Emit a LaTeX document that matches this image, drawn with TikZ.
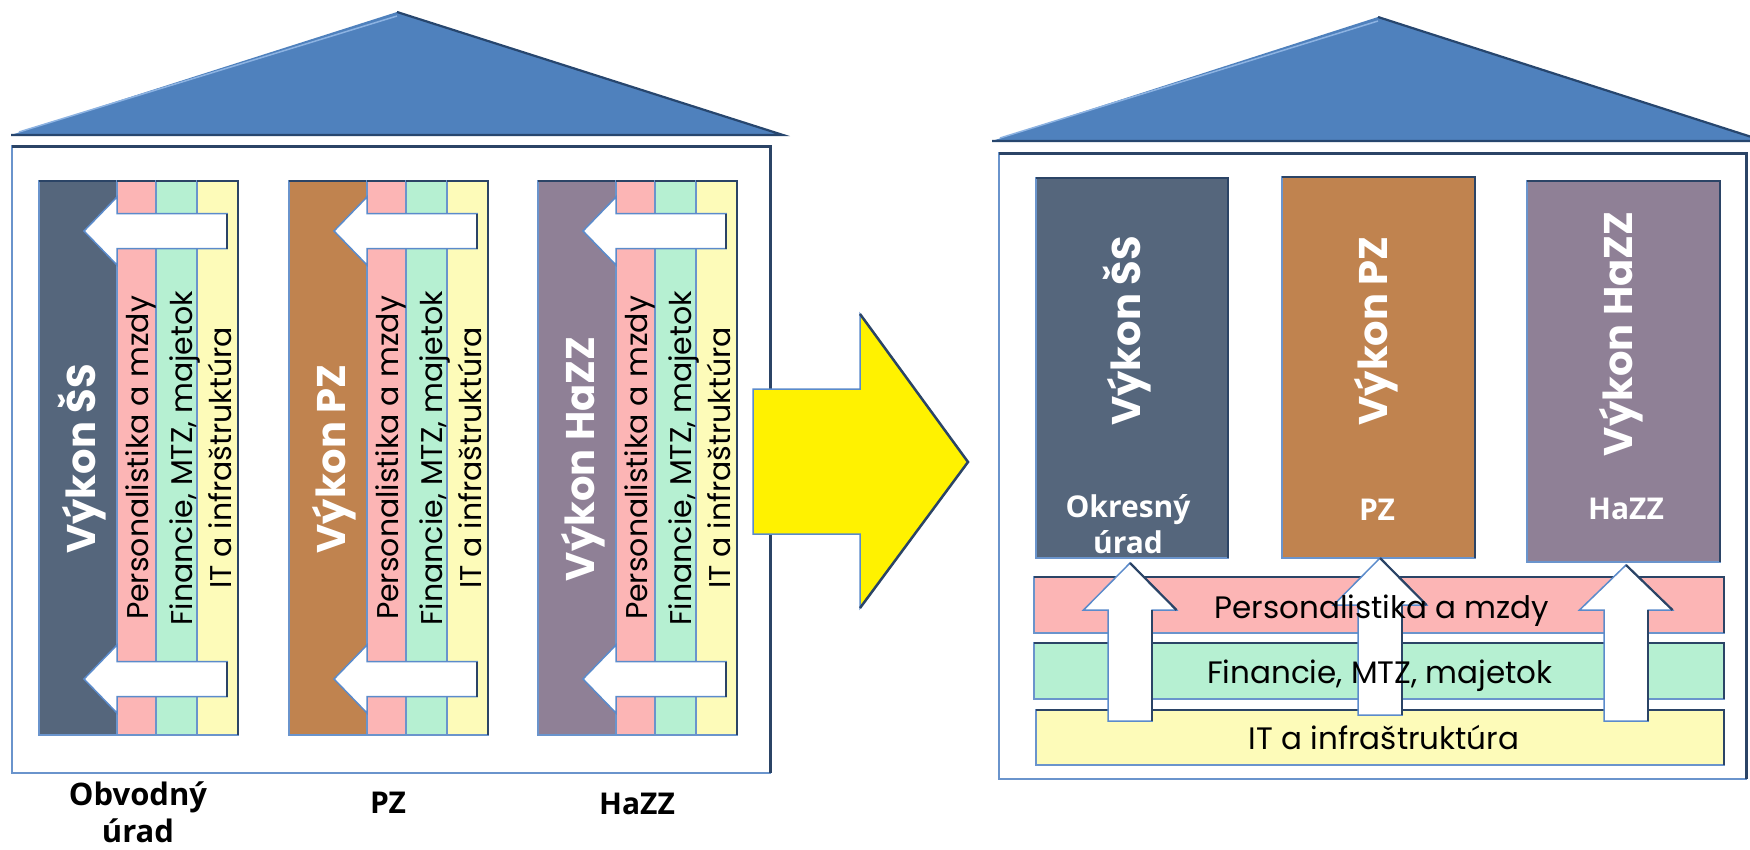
\documentclass[tikz,border=0pt]{standalone}
\usepackage{fontspec}
\setmainfont{Poppins}
\newfontfamily\lblfont{Open Sans}
\definecolor{roofc}{HTML}{4F81BD}
\definecolor{roofhi}{HTML}{8DB3E2}
\definecolor{roofdk}{HTML}{27466E}
\definecolor{cSS}{HTML}{55667C}
\definecolor{cPZ}{HTML}{C0834F}
\definecolor{cHZ}{HTML}{8F8096}
\definecolor{cPink}{HTML}{FCB5B5}
\definecolor{cGreen}{HTML}{B6F0D2}
\definecolor{cYel}{HTML}{FDFBB9}
\definecolor{edgeL}{HTML}{6A94CC}
\definecolor{edgeD}{HTML}{2B4466}
\definecolor{arrowE}{HTML}{5B8BCB}
\newcommand{\bevrect}[5]{%
  \fill[#5] (#1,#2) rectangle (#3,#4);
  \draw[edgeL, line width=1.3pt] (#1,#2) rectangle (#3,#4);
  \draw[edgeD, line width=2.4pt, line join=miter] (#1,#2) -- (#3,#2) -- (#3,#4);}
\tikzset{
  striptext/.style={rotate=90, anchor=base, inner sep=0pt, text=black, font=\fontsize{30}{30}\selectfont},
  vykon/.style={rotate=90, anchor=base, inner sep=0pt, text=white, font=\fontsize{40}{40}\selectfont\bfseries},
  lbl/.style={align=center, anchor=base, inner sep=0pt, font=\lblfont\bfseries\fontsize{30}{37}\selectfont},
  bartext/.style={anchor=base, inner sep=0pt, text=black, font=\fontsize{31}{31}\selectfont},
  blockarrow/.style={fill=white, draw=arrowE, line width=1.5pt, line join=miter},
  shade/.style={edgeD, line width=2.2pt}
}
\begin{document}
\begin{tikzpicture}[x=1pt, y=-1pt]
\clip (0,0) rectangle (1750,849);
\fill[white] (0,0) rectangle (1750,849);

% ---------- roofs ----------
\foreach \ax/\ay/\bl/\br/\by in {397/12/11/783/135, 1378/17/992/1764/141}{
  \fill[roofc] (\bl,\by) -- (\ax,\ay) -- (\br,\by) -- cycle;
  \draw[roofhi, line width=1.5pt] ({\bl+8},{\by-3}) -- (\ax,{\ay+4});
  \draw[roofdk, line width=2.2pt] (\ax,\ay) -- (\br,\by) -- (\bl,\by);
}

% ---------- frames ----------
\draw[edgeL, line width=1.5pt] (12,146) rectangle (770,773);
\draw[edgeD, line width=3pt] (12,146) -- (770,146) -- (770,773);
\draw[edgeL, line width=1.5pt] (999,153) rectangle (1746,779);
\draw[edgeD, line width=3pt] (999,153) -- (1746,153) -- (1746,779);

% ---------- left pillars ----------
\foreach \dx/\i/\col/\txt in {0/1/cSS/{Výkon ŠS}, 250/2/cPZ/{Výkon PZ}, 499/3/cHZ/{Výkon HaZZ}}{
  \bevrect{39+\dx}{181}{117+\dx}{735}{\col}
  \bevrect{117+\dx}{181}{156+\dx}{735}{cPink}
  \bevrect{156+\dx}{181}{197+\dx}{735}{cGreen}
  \bevrect{197+\dx}{181}{238+\dx}{735}{cYel}
  \foreach \cy in {231,679}{
    \draw[blockarrow] ({84+\dx},\cy) -- ({117+\dx},{\cy-34}) -- ({117+\dx},{\cy-17.5}) -- ({227+\dx},{\cy-17.5})
      -- ({227+\dx},{\cy+17.5}) -- ({117+\dx},{\cy+17.5}) -- ({117+\dx},{\cy+34}) -- cycle;
    \draw[shade] ({227+\dx},{\cy-17.5}) -- ({227+\dx},{\cy+17.5});
  }
  \node[vykon] (vyk\i) at ({95+\dx},459) {\txt};
  \node[striptext] (per\i) at ({148+\dx},458) {Personalistika a mzdy};
  \node[striptext] (fin\i) at ({192+\dx},458) {Financie, MTZ, majetok};
  \node[striptext] (it\i) at ({231+\dx},458) {IT a infraštruktúra};
}
\node[lbl, font=\lblfont\bfseries\fontsize{31}{37}\selectfont] (lab1) at (138,842) {Obvodný\\úrad};
\node[lbl] (lab2) at (388,813) {PZ};
\node[lbl] (lab3) at (637,814) {HaZZ};

% ---------- big yellow arrow ----------
\draw[fill=yellow, draw=arrowE, line width=1.5pt, line join=miter]
  (753,389) -- (860,389) -- (860,314) -- (968,462) -- (860,608) -- (860,534) -- (753,534) -- cycle;
\draw[edgeD, line width=2.5pt] (860,314) -- (968,462) -- (860,608);

% ---------- right pillars ----------
\bevrect{1036}{178}{1228}{558}{cSS}
\bevrect{1282}{177}{1475}{558}{cPZ}
\bevrect{1527}{181}{1720}{562}{cHZ}
\node[vykon] (rvyk1) at (1140,331) {Výkon ŠS};
\node[vykon] (rvyk2) at (1387,331) {Výkon PZ};
\node[vykon] (rvyk3) at (1632,334) {Výkon HaZZ};
\node[lbl, text=white, font=\lblfont\bfseries\fontsize{30}{36}\selectfont] (rlab1) at (1128,553) {Okresný\\úrad};
\node[lbl, text=white] (rlab2) at (1377,520) {PZ};
\node[lbl, text=white] (rlab3) at (1626,519) {HaZZ};

% ---------- right layers ----------
\bevrect{1034}{577}{1724}{633}{cPink}
\bevrect{1034}{643}{1724}{699}{cGreen}
\bevrect{1036}{710}{1724}{765}{cYel}

\foreach \tx/\ty/\hy/\by in {1130/563/610/721, 1380/558/605/715, 1626/565/610/721}{
  \draw[blockarrow] (\tx,\ty) -- ({\tx+46.5},\hy) -- ({\tx+22},\hy) -- ({\tx+22},\by) -- ({\tx-22},\by)
    -- ({\tx-22},\hy) -- ({\tx-46.5},\hy) -- cycle;
  \draw[shade] (\tx,\ty) -- ({\tx+46.5},\hy);
  \draw[shade] ({\tx+22},\hy) -- ({\tx+22},\by);
}
\node[bartext] (rb1) at (1382,618) {Personalistika a mzdy};
\node[bartext] (rb2) at (1380,683) {Financie, MTZ, majetok};
\node[bartext] (rb3) at (1384,749) {IT a infraštruktúra};
\end{tikzpicture}
\end{document}
